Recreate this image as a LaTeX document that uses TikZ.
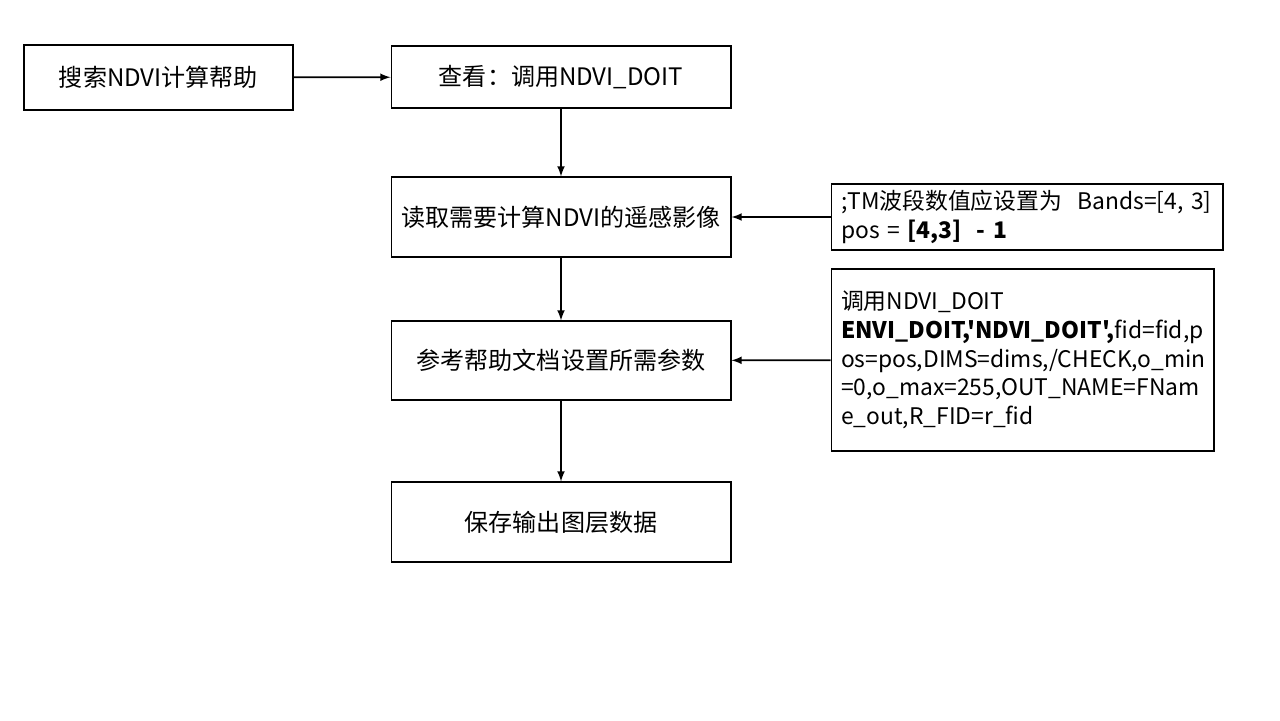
\documentclass[tikz,border=0pt]{standalone}
\usepackage{fontspec}
\setmainfont{Noto Sans CJK SC}[Ligatures=TeXOff]
\begin{document}
\begin{tikzpicture}[x=0.02cm, y=-0.02cm, >=latex,
  box/.style={draw, line width=0.6pt, minimum width=6.8cm, minimum height=1.6cm, font=\fontsize{13.7}{16}\selectfont},
  note/.style={draw, line width=0.6pt, align=left, inner xsep=0.2cm, font=\fontsize{13}{16.4}\selectfont},
  link/.style={->, line width=1pt}]
\useasboundingbox (0,0) rectangle (1280,720);
\node[box, minimum width=5.38cm, minimum height=1.3cm] (search) at (158.5,77.5) {搜索NDVI计算帮助};
\node[box, minimum height=1.24cm] (view) at (561,77) {查看：调用NDVI\_DOIT};
\node[box] (read) at (561,217) {读取需要计算NDVI的遥感影像};
\node[box, minimum height=1.58cm] (param) at (561,360.5) {参考帮助文档设置所需参数};
\node[box] (save) at (561,522) {保存输出图层数据};
\node[note, text width=7.44cm, minimum height=1.32cm] (bands) at (1027,217)
  {;TM波段数值应设置为\ \ Bands=[4, 3]\\pos = \textbf{[4,3]}\ \ \textbf{- 1}};
\node[note, text width=7.26cm, minimum height=3.64cm] (call) at (1022.5,360)
  {调用NDVI\_DOIT\\\textbf{ENVI\_DOIT,'NDVI\_DOIT',}fid=fid,p\\os=pos,DIMS=dims,/CHECK,o\_min\\=0,o\_max=255,OUT\_NAME=FNam\\e\_out,R\_FID=r\_fid};
\draw[link] (search) -- (view);
\draw[link] (view) -- (read);
\draw[link] (read) -- (param);
\draw[link] (param) -- (save);
\draw[link] (bands) -- (read);
\draw[link] (call) -- (param);
\end{tikzpicture}
\end{document}
